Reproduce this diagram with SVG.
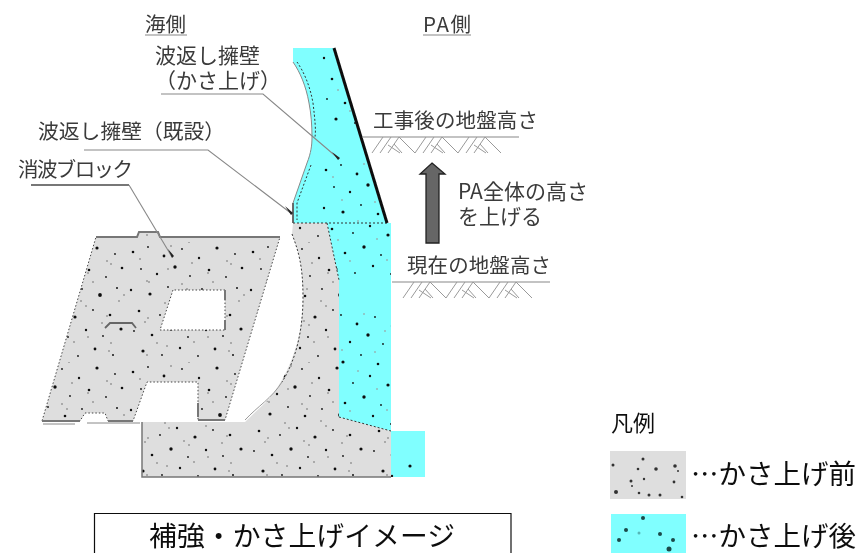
<svg xmlns="http://www.w3.org/2000/svg" width="862" height="553" viewBox="0 0 862 553">
<style>
text{font-family:"Noto Sans CJK JP","Noto Sans",sans-serif;fill:#3a3a3a;font-size:20.5px}
.k{fill:#111}
.g{fill:url(#gd);stroke:#444;stroke-width:1;stroke-dasharray:1.5 2}
.l{fill:none;stroke:#888;stroke-width:1.1}
.h{fill:none;stroke:#999;stroke-width:1}
.s{fill:none;stroke:#777;stroke-width:2}
.d{fill:none;stroke:#333;stroke-width:1;stroke-dasharray:2 2}
</style>
<defs>
<filter id="b" x="-5%" y="-5%" width="110%" height="110%"><feGaussianBlur stdDeviation="0.5"/></filter>
<filter id="t" x="-5%" y="-5%" width="110%" height="110%"><feGaussianBlur stdDeviation="0.35"/></filter>
<g id="dk" fill="#111">
<circle cx="6" cy="9" r="1.3"/><circle cx="21" cy="4" r=".9"/><circle cx="37" cy="13" r="1.4"/><circle cx="55" cy="6" r=".9"/><circle cx="72" cy="15" r="1.2"/><circle cx="90" cy="5" r="1.6"/><circle cx="108" cy="11" r=".9"/>
<circle cx="14" cy="26" r=".9"/><circle cx="30" cy="31" r="1.2"/><circle cx="48" cy="24" r="1.7"/><circle cx="63" cy="33" r=".9"/><circle cx="82" cy="27" r="1.3"/><circle cx="99" cy="34" r=".9"/><circle cx="115" cy="25" r="1.3"/>
<circle cx="4" cy="47" r="1.2"/><circle cx="23" cy="51" r="1.6"/><circle cx="41" cy="44" r=".9"/><circle cx="58" cy="53" r="1.3"/><circle cx="75" cy="46" r=".9"/><circle cx="93" cy="52" r="1.9"/><circle cx="110" cy="45" r="1"/>
<circle cx="12" cy="68" r="1.3"/><circle cx="33" cy="72" r=".9"/><circle cx="50" cy="65" r="1.2"/><circle cx="68" cy="74" r="1.6"/><circle cx="86" cy="67" r=".9"/><circle cx="103" cy="72" r="1.3"/>
<circle cx="7" cy="88" r=".9"/><circle cx="25" cy="92" r="1.3"/><circle cx="44" cy="86" r="1.7"/><circle cx="61" cy="94" r=".9"/><circle cx="79" cy="87" r="1.2"/><circle cx="96" cy="93" r=".9"/><circle cx="114" cy="86" r="1.6"/>
<circle cx="16" cy="108" r="1.6"/><circle cx="35" cy="112" r=".9"/><circle cx="53" cy="105" r="1.2"/><circle cx="71" cy="113" r=".9"/><circle cx="88" cy="106" r="1.4"/><circle cx="106" cy="112" r="1"/>
</g>
<g id="lt" fill="#999">
<circle cx="13" cy="16" r="1"/><circle cx="44" cy="3" r="1"/><circle cx="65" cy="20" r="1"/><circle cx="100" cy="18" r="1"/><circle cx="22" cy="39" r="1"/><circle cx="55" cy="41" r="1"/><circle cx="86" cy="39" r="1"/><circle cx="112" cy="58" r="1"/><circle cx="38" cy="60" r="1"/><circle cx="74" cy="58" r="1"/><circle cx="18" cy="79" r="1"/><circle cx="57" cy="78" r="1"/><circle cx="95" cy="80" r="1"/><circle cx="30" cy="100" r="1"/><circle cx="67" cy="99" r="1"/><circle cx="104" cy="100" r="1"/>
</g>
<pattern id="gd" width="120" height="120" patternUnits="userSpaceOnUse" x="7" y="3">
<rect width="120" height="120" fill="#dedede"/><use href="#lt"/><use href="#lt" transform="translate(120 8) rotate(90)"/><use href="#dk"/>
</pattern>
<pattern id="cd" width="150" height="150" patternUnits="userSpaceOnUse" x="20" y="11">
<rect width="150" height="150" fill="#80ffff"/><use href="#lt" opacity=".7"/><use href="#dk"/>
</pattern>
<g id="ht" class="h">
<path d="M0 16L11 0M8 16L19 0M16 16L27 0M22 7L30 16M27 0L43 16M16 8L28 16"/>
</g>
<g id="htt"><use href="#ht"/><use href="#ht" x="43"/><use href="#ht" x="86"/></g>
</defs>
<g filter="url(#b)">
<g id="block">
<path class="g" fill-rule="evenodd" d="M96 237H137L139 232H158L160 237H280L225 420H198V382H147L133 421H108L105 413H85L80 421H42ZM173 290L160 330H225V290Z"/>
<path class="s" d="M42 421H80M108 421H133M198 420H225"/>
<path class="s" stroke-width="1.5" d="M96 237H137L139 232H158L160 237H280"/>
<path class="s" d="M225 290V300M225 320V330M198 403V417"/>
<path fill="none" stroke="#666" stroke-width="1.8" d="M105 328L110 323H132L136 328"/>
<path fill="none" stroke="#888" d="M43 424H75M87 423H140"/>
</g>
<g id="wall-existing">
<path fill="url(#gd)" d="M293 223H327L339 280V417L391 431V477H142V422H245L268 400C285 380 303 345 303 297C303 265 298 250 292 234Z"/>
<path class="d" d="M292 234C298 250 303 265 303 297C303 330 296 360 282 382"/>
<path fill="none" stroke="#999" d="M282 382C272 398 258 406 245 420"/>
<path fill="none" stroke="#777" stroke-width="1.5" d="M142 422V477H391"/>
</g>
<g id="wall-raised">
<path fill="url(#cd)" d="M327 223H391V431L339 417V280Z"/>
<path class="d" d="M327 223L339 280M339 417L391 431"/>
<path fill="url(#cd)" d="M391 431H425V477H391Z"/>
<path fill="url(#cd)" d="M293 48H333L387 223H293V203L307 163C311 153 312 145 312 137C312 125 311 113 309 103C306 86 300 72 293 62Z"/>
<path fill="none" stroke="#888" d="M293 62C300 72 306 86 309 103C311 113 312 125 312 137C312 145 311 153 307 163L293 203V223"/>
<path class="d" d="M297 62C304 72 310 86 313 103C315 120 316 130 315 137M311 165L297 203V220"/>
<path class="d" stroke-width="1.2" d="M293 223H387"/>
<path fill="none" stroke="#555" stroke-width="1.6" d="M293 203V223"/>
<path fill="none" stroke="#111" stroke-width="3" d="M334 48L387 223"/>
</g>
<g id="connectors">
<path class="s" d="M31 185H129"/>
<path class="l" d="M129 185L172 257"/>
<path fill="#222" d="M168 249L174 256L172 258Z"/>
<path class="l" d="M84 150H208L292 214"/>
<path fill="#222" d="M285 206L293 213L291 215Z"/>
<path class="l" d="M161 94H263L339 159"/>
<path fill="#222" d="M332 152L340 158L338 160Z"/>
<path class="l" d="M362 137H519"/>
<path class="l" d="M392 282H550"/>
<use href="#htt" x="372" y="137"/>
<use href="#htt" x="403" y="282"/>
</g>
<g id="arrow"><path d="M432 163L445 174H439V243H426V174H420Z" fill="#666" stroke="#222" stroke-width="1.3"/></g>
</g>
<g filter="url(#t)">
<g id="labels">
<text x="145" y="32" textLength="41">海側</text><path class="l" d="M145 35H187"/>
<text x="423" y="32" textLength="48">PA側</text><path class="l" d="M423 35H471"/>
<text x="155" y="63" style="font-size:21px">波返し擁壁</text>
<text x="155" y="88" style="font-size:21px">（かさ上げ）</text>
<text x="38" y="139" style="font-size:20.800px">波返し擁壁（既設）</text>
<text x="18" y="177" textLength="115">消波ブロック</text>
<text x="373" y="128" textLength="165">工事後の地盤高さ</text>
<text x="458" y="199" style="font-size:21px">PA全体の高さ</text>
<text x="458" y="224" style="font-size:21px">を上げる</text>
<text x="407" y="273" textLength="144">現在の地盤高さ</text>
</g>
<g id="legend">
<text class="k" x="611" y="431" style="font-size:22px">凡例</text>
<path d="M610 451H686V499H610Z" fill="#dedede"/>
<g fill="#333"><circle cx="613" cy="465" r="1.5"/><circle cx="638" cy="469" r="1.300"/><circle cx="643" cy="459" r="1.500"/><circle cx="656" cy="469" r="1.800"/><circle cx="631" cy="481" r="1.500"/><circle cx="644" cy="479" r="1.200"/><circle cx="675" cy="466" r="1.800"/><circle cx="674" cy="482" r="1.400"/><circle cx="616" cy="492" r="2"/><circle cx="639" cy="493" r="1.300"/><circle cx="649" cy="495" r="1.500"/><circle cx="660" cy="495" r="1.500"/><circle cx="682" cy="497" r="1.300"/><circle cx="632" cy="486" r="1"/><circle cx="678" cy="471" r="1"/></g>
<path d="M611 514H686V553H611Z" fill="#80ffff"/>
<g fill="#1a4a4a"><circle cx="643" cy="518" r="2"/><circle cx="626" cy="530" r="2"/><circle cx="660" cy="534" r="2"/><circle cx="673" cy="540" r="2"/><circle cx="619" cy="540" r="2"/><circle cx="669" cy="549" r="2.500"/><circle cx="639" cy="533" r="1.500" opacity=".4"/></g>
<text class="k" x="691" y="484" style="font-size:27.5px">…かさ上げ前</text>
<text class="k" x="691" y="546" style="font-size:27.5px">…かさ上げ後</text>
</g>
<g id="title">
<path d="M94.500 513.500H511V560H94.500Z" fill="none" stroke="#111" stroke-width="1.2"/>
<text class="k" x="149" y="546" textLength="306" style="font-size:27.8px">補強・かさ上げイメージ</text>
</g>
</g>
</svg>
